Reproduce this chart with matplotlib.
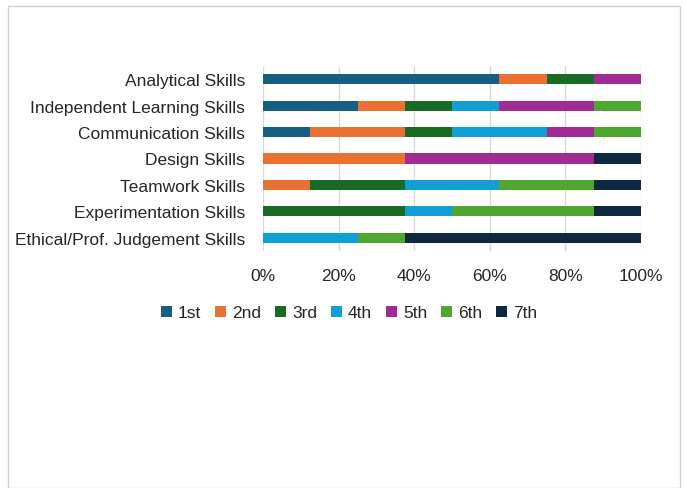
import matplotlib
matplotlib.use("Agg")
import matplotlib.pyplot as plt
from matplotlib.patches import Rectangle
from matplotlib.ticker import PercentFormatter

categories = ["Analytical Skills", "Independent Learning Skills", "Communication Skills",
              "Design Skills", "Teamwork Skills", "Experimentation Skills",
              "Ethical/Prof. Judgement Skills"]
series_names = ["1st", "2nd", "3rd", "4th", "5th", "6th", "7th"]
# values (%) per series, in category order
s1 = [62.5, 25.0, 12.5, 0, 0, 0, 0]
s2 = [12.5, 12.5, 25.0, 37.5, 12.5, 0, 0]
s3 = [12.5, 12.5, 12.5, 0, 25.0, 37.5, 0]
s4 = [0, 12.5, 25.0, 0, 25.0, 12.5, 25.0]
s5 = [12.5, 25.0, 12.5, 50.0, 0, 0, 0]
s6 = [0, 12.5, 12.5, 0, 25.0, 37.5, 12.5]
s7 = [0, 0, 0, 12.5, 12.5, 12.5, 62.5]
series = [s1, s2, s3, s4, s5, s6, s7]
colors = ["#156082", "#E97132", "#196B24", "#0F9ED5", "#A02B93", "#4EA72E", "#0E2841"]

plt.rcParams['font.family'] = ['Liberation Sans', 'DejaVu Sans']

fig = plt.figure(figsize=(6.86, 4.89), dpi=100)
fig.patches.append(Rectangle((8/686, 0), (680-8)/686, 1 - 7/489, transform=fig.transFigure,
                             fill=False, edgecolor="#d0d0d0", linewidth=1))

ax = fig.add_axes([263/686, 1 - 252/489, (641-263)/686, (252-67)/489])
y = list(range(len(categories)))
left = [0.0] * len(categories)
for name, vals, c in zip(series_names, series, colors):
    ax.barh(y, vals, left=left, height=0.38, color=c, label=name, zorder=3)
    left = [l + v for l, v in zip(left, vals)]

ax.set_xlim(0, 100)
ax.set_ylim(len(categories) - 0.5, -0.5)
ax.set_yticks(y)
ax.set_yticklabels(categories, fontsize=12.5, color="#262626")
ax.set_xticks([0, 20, 40, 60, 80, 100])
ax.xaxis.set_major_formatter(PercentFormatter(decimals=0))
ax.tick_params(axis='x', labelsize=12.5, colors="#262626", length=0, pad=12)
ax.tick_params(axis='y', length=0, pad=13)
ax.grid(axis='x', color="#d9d9d9", linewidth=1, zorder=0)
for s in ax.spines.values():
    s.set_visible(False)

fig.legend(loc='center', bbox_to_anchor=(349/686, 1 - 314/489), ncol=7, frameon=False,
           fontsize=12.5, handlelength=0.63, handleheight=0.63, columnspacing=0.8,
           handletextpad=0.35, labelcolor="#262626")

fig.savefig("out.png", dpi=100)
